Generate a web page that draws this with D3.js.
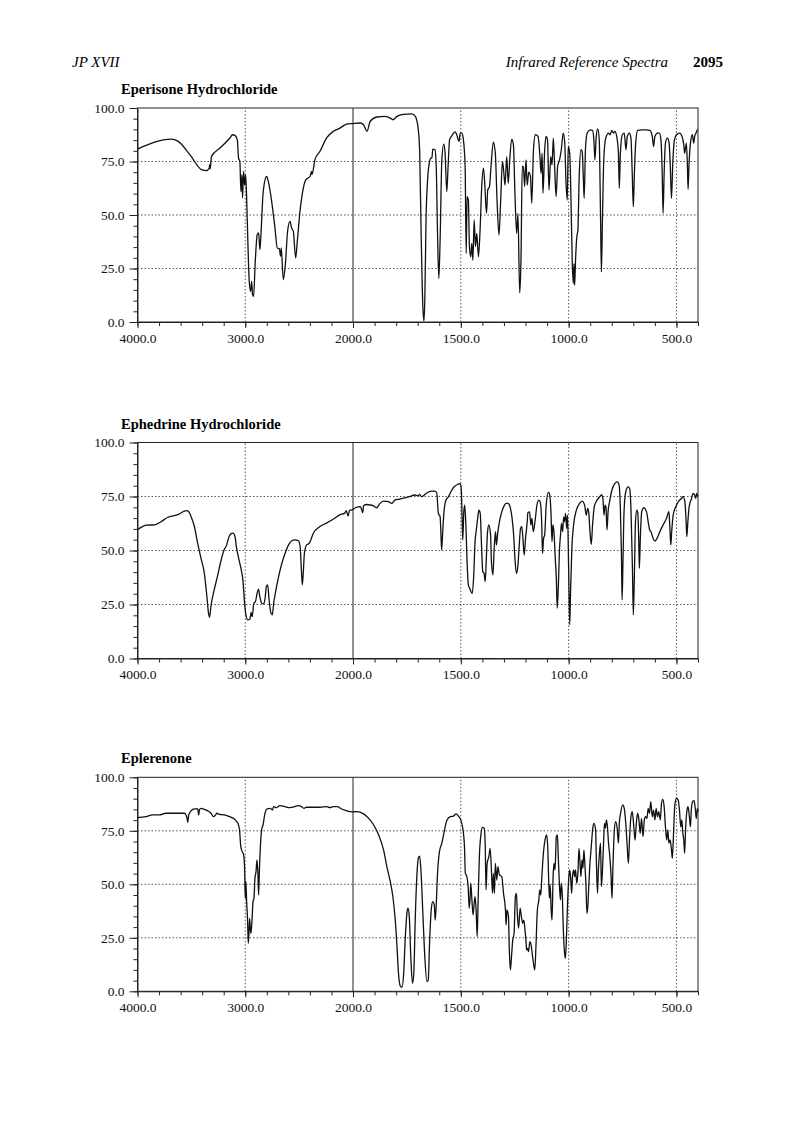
<!DOCTYPE html>
<html>
<head>
<meta charset="utf-8">
<script src="https://cdn.jsdelivr.net/npm/d3@7"></script>
<style>
  body { margin: 0; background: #fff; }
  svg text { font-family: "Liberation Serif", "Times New Roman", serif; }
</style>
</head>
<body>
<svg id="page" width="800" height="1122"></svg>
<script>
// wavenumber (cm-1), transmittance (%)
const eperisone = [[4000,80.8],[3684,85.5],[3622,84.4],[3514,78.2],[3406,71.2],[3360,70.7],[3334,72],[3330,73.5],[3326,71.5],[3313,77.4],[3235,81.3],[3142,86],[3118,87.5],[3096,87.2],[3074,85.2],[3062,76.6],[3050,75],[3040,61],[3031,68.8],[3025,58],[3016,70.4],[3006,64],[2997,68.8],[2988,59.5],[2975,36.1],[2963,19],[2950,14.3],[2941,19],[2932,12.8],[2923,12],[2907,28.3],[2889,40.8],[2876,41.6],[2864,33.8],[2858,37.7],[2833,61],[2802,68],[2786,65.7],[2755,56.4],[2724,43.9],[2703,34.6],[2684,34.3],[2672,30.7],[2666,34.6],[2647,19.8],[2628,26.8],[2607,42.4],[2585,47],[2570,43.9],[2554,42.4],[2532,29.9],[2517,37.7],[2492,51.7],[2461,62.6],[2437,66.5],[2399,68],[2390,69.5],[2384,70.4],[2380,69],[2353,75.9],[2306,79.8],[2245,86],[2183,89.1],[2121,90.6],[2059,92.5],[2012,92.7],
  [1966,93],[1951,92.2],[1935,89.1],[1920,93.8],[1889,95.8],[1850,96.1],[1827,95.3],[1815,94.5],[1796,96.1],[1765,97],[1727,97.3],[1711,96.1],[1699,91.4],[1691,80.5],[1684,41.4],[1676,7],[1671,0.5],[1667,10.2],[1661,49.2],[1654,66.4],[1645,75],[1640,76.6],[1634,76.6],[1630,80.8],[1620,80.5],[1614,72.7],[1608,41.4],[1602,20.3],[1596,38.3],[1588,75.8],[1579,83.1],[1573,78.9],[1565,60.9],[1559,72.7],[1552,85.2],[1542,87],[1526,88.8],[1519,87.5],[1508,84.4],[1503,88.3],[1495,88.3],[1488,85.2],[1480,72.7],[1475,32],[1471,58.6],[1465,57],[1460,35.2],[1454,30.5],[1449,36.7],[1444,28.9],[1438,47.7],[1432,35.2],[1426,41.4],[1418,30.5],[1410,44.5],[1403,63.3],[1395,71.9],[1389,64.8],[1381,50.8],[1375,61.7],[1367,63.3],[1360,72.7],[1349,84.1],[1340,78.9],[1332,57],[1323,40.6],[1315,57],[1307,75],[1301,70.3],[1295,64],[1287,77.3],[1280,64.8],[1273,75.8],[1264,85.5],[1256,82.8],[1249,60.2],[1241,41.4],[1235,50.8],[1227,13.6],[1221,28.9],[1215,72.7],[1210,72.7],[1204,63.3],
  [1198,75.8],[1192,64],[1185,70],[1177,68],[1171,55.5],[1163,80.5],[1154,87.5],[1142,86.7],[1134,78.9],[1128,69.5],[1123,78.9],[1119,60.2],[1111,80.5],[1105,86.7],[1098,85.2],[1091,61.7],[1083,77.3],[1077,73.4],[1071,85.9],[1065,72.7],[1058,58.6],[1051,72.7],[1042,75.8],[1034,80.5],[1025,88.3],[1018,83.6],[1012,64.8],[1006,57],[1002,82],[995,78.9],[989,57],[983,27.3],[978,18],[975,27.3],[972,17.2],[968,28.9],[962,39.8],[957,43],[951,68],[943,80.5],[937,79.7],[932,68],[928,57.8],[922,80.5],[914,88.3],[900,89.8],[889,89.5],[883,85.2],[878,75.8],[872,86.7],[865,90.2],[858,85.2],[852,49.2],[848,23.4],[843,49.2],[837,75.8],[828,85.9],[815,88.3],[808,87.5],[800,89.5],[792,88.3],[785,89.1],[777,86.7],[769,78.9],[765,62.5],[760,78.9],[751,87.5],[742,88.3],[734,80.5],[728,86.7],[718,88.3],[711,85.9],[705,69.5],[700,53.9],[695,69.5],[689,83.6],[680,89.5],[662,89.8],[639,89.8],[623,89.5],[612,86.7],[606,82],[600,86.7],[588,88.3],[579,88.3],[572,85.2],[566,69.5],[562,50.8],[557,69.5],[551,83.6],[542,85.9],[534,83.6],[529,74.2],[523,57.8],[517,74.2],[509,85.2],[500,87.5],[485,88.3],[474,86.7],[466,82.8],[462,78.9],[454,83.6],[449,72.7],[446,62],[442,72.7],[435,83.6],[426,87.5],[420,83.6],[415,87],[409,88.3],[403,89.8],[400,89.5]];

const ephedrine = [[4000,59.6],[3963,60.8],[3917,61.7],[3841,61.9],[3779,63.4],[3718,65.4],[3672,66],[3610,67],[3549,68.5],[3528,68.2],[3503,65.7],[3472,61.1],[3442,53.4],[3411,46.5],[3380,39.5],[3356,28.7],[3341,21],[3331,19.1],[3319,24],[3288,31.8],[3258,38],[3227,44.9],[3196,50.3],[3172,52.6],[3160,54.9],[3135,57.7],[3114,58],[3095,56.5],[3083,51.9],[3058,45.7],[3037,41],[3022,36.4],[3006,25.6],[2994,20.2],[2976,17.9],[2957,18.2],[2945,21.3],[2936,19.4],[2920,25.6],[2905,26.4],[2890,30.2],[2877,32.1],[2865,28.7],[2847,25.6],[2828,25.3],[2816,27.9],[2804,33.3],[2792,34.1],[2779,27.2],[2761,21],[2749,20.2],[2736,25.6],[2721,30.2],[2690,38],[2660,44.1],[2629,48.8],[2598,52.6],[2568,54.5],[2537,54.9],[2506,54.5],[2491,51.9],[2479,41],[2470,34.1],[2460,41],[2451,48.8],[2430,52.6],[2405,53.4],[2368,58],[2307,61.1],[2246,62.7],[2184,64.5],[2123,66.5],[2077,67.3],[2062,68.4],[2046,66],[2031,68.7],[2012,68.7],
  [1989,69.8],[1966,70.3],[1959,68.7],[1955,67.5],[1951,70.7],[1936,71.3],[1917,71],[1905,70.7],[1890,69.8],[1875,71.8],[1859,72.9],[1836,72.6],[1821,71.8],[1806,73.3],[1783,73.8],[1760,74.4],[1737,74.9],[1714,75.7],[1699,75.3],[1691,76],[1683,74.9],[1661,76.4],[1638,77.5],[1622,77.5],[1612,76.9],[1604,67.2],[1596,65.6],[1592,57.2],[1589,50.2],[1584,58.7],[1578,68],[1569,73.3],[1557,74.9],[1546,77.2],[1531,79.5],[1515,80.6],[1503,81],[1498,78.7],[1494,64.9],[1491,54.9],[1486,68],[1482,71],[1477,63.3],[1471,44.8],[1465,34.1],[1459,32.5],[1453,31],[1447,30.2],[1440,38.7],[1434,54.1],[1428,59.5],[1422,64.9],[1416,68.7],[1410,67.2],[1404,52.5],[1398,40.2],[1392,39.4],[1387,35.6],[1381,47.9],[1376,58.7],[1370,61.8],[1362,57.2],[1358,44.8],[1351,38.7],[1346,49.5],[1339,58.7],[1335,52.5],[1329,57.9],[1321,63.3],[1312,67.2],[1301,70.3],[1290,71.8],[1281,71.8],[1272,70.3],[1263,65.6],[1255,57.2],[1248,44.8],[1242,39.4],[1235,43.3],[1229,52.5],[1223,60.2],[1217,61],[1211,54.1],[1206,47.9],[1200,55.5],[1192,63.3],
  [1189,67.6],[1181,67.9],[1175,61.8],[1170,64.9],[1164,58.7],[1156,63.3],[1147,71],[1138,73.3],[1132,72.6],[1125,63.3],[1121,48.7],[1116,55.6],[1111,57.2],[1104,71],[1094,76.9],[1088,76],[1082,68],[1077,54.1],[1073,61.8],[1068,58.7],[1062,46.4],[1057,37.1],[1053,23.3],[1048,32.5],[1042,51],[1037,57.9],[1033,62.6],[1028,58.7],[1023,65.6],[1019,63.3],[1014,67.2],[1009,60.2],[1005,66.4],[1000,41.8],[995,15.6],[991,31],[985,51],[977,61.8],[964,68.7],[949,71.8],[937,72.9],[926,71],[918,66.4],[912,69.5],[907,67.9],[901,58.7],[895,52.8],[889,61.8],[881,70.3],[868,73.3],[856,74.9],[847,75.7],[841,74.1],[836,66.4],[831,71],[827,70.3],[822,59.5],[817,68],[810,72.6],[797,78.7],[786,81],[774,81.8],[766,80.3],[760,69.5],[755,47.9],[752,27.1],[748,44.8],[743,68],[735,77.2],[724,79.5],[717,78.7],[711,69.5],[704,41.8],[700,20.2],[695,38.7],[690,63.3],[684,68.7],[679,67.2],[675,55.6],[672,41.8],[667,57.2],[661,68],[652,69.8],[639,68],[630,62.6],[624,59.5],[618,58.7],[608,55.6],[599,54.4],[590,55.6],[577,58.7],[562,61.8],[546,64.9],[535,68],[531,61.8],[526,52.5],[522,58.7],[515,66.4],[503,70.3],[491,72.6],[477,74.1],[469,74.9],[461,72.6],[455,63.3],[452,56.4],[447,63.3],[441,70.3],[430,74.1],[423,76.4],[416,75.7],[410,74.1],[407,76.4],[404,75.7],[400,75]];

const eplerenone = [[4000,81.2],[3922,81.6],[3860,82.4],[3798,82.4],[3736,83.2],[3643,83.2],[3565,83.2],[3550,82.4],[3540,80.8],[3534,79],[3525,82.4],[3503,84.3],[3472,85.2],[3441,85.2],[3432,82.4],[3425,84.9],[3410,85.5],[3379,85],[3348,84.3],[3317,83.2],[3295,81.6],[3276,82.4],[3264,83.2],[3239,82.7],[3192,82.4],[3146,81.6],[3099,80.4],[3068,78.5],[3053,75.4],[3043,68.4],[3034,66],[3025,65],[3015,63.7],[3006,57.5],[3000,43.5],[2994,51.2],[2987,41.9],[2978,32.6],[2972,22.4],[2966,26.3],[2960,34.1],[2953,29.4],[2947,27.1],[2938,32.6],[2928,41.9],[2919,43.5],[2910,52.8],[2900,55.9],[2891,61.4],[2882,54.4],[2876,45],[2869,55.9],[2857,69.9],[2845,76.2],[2835,77.7],[2820,82.4],[2798,85.2],[2767,85.5],[2748,84.7],[2736,86.3],[2711,85.8],[2680,86.8],[2633,86.3],[2587,85.8],[2540,86.3],[2509,86.8],[2478,86.3],[2456,85.5],[2431,86],[2369,86],[2307,86],[2245,86.3],[2214,85.8],[2183,86.3],[2146,86.3],[2105,85.2],[2059,84.4],[2030,84],[2000,83.8],
  [1981,84],[1951,82.9],[1927,80.8],[1904,77.7],[1881,73],[1858,66],[1843,58.3],[1827,51.2],[1815,44.2],[1804,33.3],[1796,20.9],[1789,8.4],[1781,2.5],[1773,1.9],[1765,8.4],[1758,24],[1750,36.4],[1745,38.8],[1739,34.9],[1732,16.2],[1724,3.7],[1718,8.4],[1711,34.9],[1704,53.6],[1696,62.6],[1691,63.2],[1685,56.7],[1676,36.4],[1667,16.2],[1657,4.5],[1651,5.3],[1645,22.4],[1637,38.3],[1630,41.9],[1623,40.3],[1619,33.3],[1614,40.3],[1608,55.1],[1599,65.3],[1588,69.2],[1577,74.6],[1565,79.8],[1549,81.6],[1534,81.9],[1522,82.9],[1511,81.9],[1500,80],[1491,76.2],[1483,67.6],[1479,55.1],[1472,53.6],[1466,48.9],[1461,38.8],[1457,43.5],[1454,50.5],[1448,41.9],[1443,35.7],[1438,41.1],[1434,44.2],[1429,38],[1424,25.5],[1420,41.1],[1414,62.9],[1406,73.8],[1400,76.6],[1392,76.2],[1387,69.2],[1383,47.4],[1378,59.8],[1370,62.9],[1364,66.8],[1358,56.7],[1353,45.8],[1349,55.1],[1344,45.8],[1340,59.8],[1333,52],[1328,58.3],[1321,54.4],[1310,53.6],[1302,45.8],[1293,38],[1290,31],[1286,38],[1279,34.9],[1275,19.3],[1270,10],[1265,16.2],[1259,24],[1253,27.1],[1247,44.2],[1242,45.8],[1238,36.4],[1232,29.4],[1225,38.8],[1219,34.9],[1213,31.8],[1208,33.3],[1203,29.4],[1197,22.4],[1195,19.3],[1190,20],
  [1186,18.5],[1180,23.2],[1174,21.7],[1169,17.8],[1163,13.1],[1157,10],[1151,22.4],[1145,38],[1138,42.7],[1134,47.4],[1129,45],[1125,52],[1117,64.5],[1108,71.5],[1102,73.1],[1097,67.6],[1092,50.5],[1089,43.5],[1086,49.7],[1080,36.4],[1077,33.3],[1072,53.6],[1068,59.8],[1063,56.7],[1057,72.3],[1052,73.1],[1048,62.9],[1043,50.5],[1038,42.7],[1034,50.5],[1029,44.2],[1025,30.2],[1020,19.3],[1015,15.4],[1011,22.4],[1006,38],[1000,52],[995,56.7],[991,53.6],[986,45.8],[982,53.6],[977,56.7],[972,53.6],[968,56.7],[962,50.5],[957,55.1],[952,66.8],[948,61.4],[943,53.6],[938,61.4],[934,57.5],[929,66],[925,59.8],[920,50.5],[915,36.4],[911,39.5],[906,50.5],[902,58.3],[895,67.6],[888,76.2],[882,78.5],[875,75.4],[871,59.8],[866,45.8],[862,56.7],[857,64.5],[852,69.2],[848,48.9],[843,56.7],[838,69.2],[834,78.5],[829,76.2],[825,80.1],[820,76.9],[815,69.2],[809,62.9],[803,53.6],[799,43.5],[794,59.8],[788,75.4],[782,79.3],[775,76.2],[769,69.2],[765,78.5],[759,83.2],[749,87.1],[742,85.5],[735,78.5],[729,69.2],[723,59.8],[717,72.3],[711,81.6],[705,84],[699,78.5],[692,70.7],[686,78.5],[680,83.2],[674,80.1],[668,73.8],[662,80.8],[655,72.3],[649,80.1],[643,81.6],[637,80.8],[631,85.5],[625,83.2],[619,88.6],[612,81.6],[606,84.7],[600,80.1],[594,85.5],[588,81.6],[582,84],[575,80.1],[569,87.9],[563,89.7],[557,86.3],[551,76.9],[545,70.7],[540,75.4],[535,69.2],[529,70.7],[523,66],[519,62.1],[514,72.3],[508,86.3],[500,90.2],[492,89.4],[486,84.7],[480,76.9],[475,80.1],[471,74.6],[466,70.7],[462,64.5],[457,76.9],[451,84.7],[446,86.3],[440,81.6],[435,76.9],[431,84.7],[425,88.6],[418,89.1],[412,84.7],[408,80.8],[403,85.5],[400,84]];

const titles = ["Eperisone Hydrochloride", "Ephedrine Hydrochloride", "Eplerenone"];
const xLabelTicks = [4000, 3000, 2000, 1500, 1000, 500];
const xGridTicks = [3000, 1500, 1000, 500];
const yLabelTicks = [0, 25, 50, 75, 100];
const yGridTicks = [25, 50, 75];

const svg = d3.select("#page");

// running header
svg.append("text").attr("x", 72).attr("y", 67)
	.attr("font-size", 15).attr("font-style", "italic").text("JP XVII");
svg.append("text").attr("x", 668).attr("y", 67).attr("text-anchor", "end")
	.attr("font-size", 15).attr("font-style", "italic").text("Infrared Reference Spectra");
svg.append("text").attr("x", 723).attr("y", 67).attr("text-anchor", "end")
	.attr("font-size", 15).attr("font-weight", "bold").text("2095");

// one box per spectrum
const panels = [
	{ data: eperisone, top: 108, bottom: 322 },
	{ data: ephedrine, top: 442.5, bottom: 658.5 },
	{ data: eplerenone, top: 777.3, bottom: 991.3 }
];

panels.forEach((p, i) => {
	// the scale halves at 2000 cm-1, as on the instrument chart
	const x = d3.scaleLinear().domain([4000, 2000, 400]).range([137.5, 353, 698]);
	const y = d3.scaleLinear().domain([0, 100]).range([p.bottom, p.top]);
	const g = svg.append("g");

	g.append("text").attr("x", 121).attr("y", p.top - 14)
		.attr("font-size", 14.5).attr("font-weight", "bold").text(titles[i]);

	// dotted grid
	g.selectAll(".hgrid").data(yGridTicks).enter().append("line")
		.attr("x1", x(4000)).attr("x2", x(400))
		.attr("y1", d => y(d)).attr("y2", d => y(d))
		.attr("stroke", "#444").attr("stroke-width", 0.9).attr("stroke-dasharray", "1.5,2");
	g.selectAll(".vgrid").data(xGridTicks).enter().append("line")
		.attr("x1", d => x(d)).attr("x2", d => x(d))
		.attr("y1", y(0)).attr("y2", y(100))
		.attr("stroke", "#444").attr("stroke-width", 0.9).attr("stroke-dasharray", "1.5,2");
	// solid line where the scale changes
	g.append("line").attr("x1", x(2000)).attr("x2", x(2000))
		.attr("y1", y(0)).attr("y2", y(100)).attr("stroke", "#222").attr("stroke-width", 1);

	// frame
	g.append("rect").attr("x", x(4000)).attr("y", y(100))
		.attr("width", x(400) - x(4000)).attr("height", y(0) - y(100))
		.attr("fill", "none").attr("stroke", "#222").attr("stroke-width", 1);

	// x axis: minor ticks then labelled ticks
	const minorX = d3.range(4000, 2000, -200).concat(d3.range(2000, 399, -100));
	g.append("g").attr("transform", `translate(0,${y(0)})`)
		.call(d3.axisBottom(x).tickValues(minorX).tickSize(4).tickFormat("").tickSizeOuter(0))
		.call(a => a.select(".domain").attr("stroke", "#222"))
		.call(a => a.selectAll("line").attr("stroke", "#222"));
	g.append("g").attr("transform", `translate(0,${y(0)})`)
		.call(d3.axisBottom(x).tickValues(xLabelTicks).tickSize(6).tickPadding(5)
			.tickFormat(d3.format(".1f")).tickSizeOuter(0))
		.call(a => a.select(".domain").remove())
		.call(a => a.selectAll("line").attr("stroke", "#222"))
		.call(a => a.selectAll("text").attr("font-size", 13.5).attr("fill", "#111")
			.attr("font-family", "Liberation Serif, serif"));

	// y axis
	g.append("g").attr("transform", `translate(${x(4000)},0)`)
		.call(d3.axisLeft(y).tickValues(d3.range(0, 101, 5)).tickSize(4).tickFormat("").tickSizeOuter(0))
		.call(a => a.select(".domain").attr("stroke", "#222"))
		.call(a => a.selectAll("line").attr("stroke", "#222"));
	g.append("g").attr("transform", `translate(${x(4000)},0)`)
		.call(d3.axisLeft(y).tickValues(yLabelTicks).tickSize(8).tickPadding(5)
			.tickFormat(d3.format(".1f")).tickSizeOuter(0))
		.call(a => a.select(".domain").remove())
		.call(a => a.selectAll("line").attr("stroke", "#222"))
		.call(a => a.selectAll("text").attr("font-size", 13.5).attr("fill", "#111")
			.attr("font-family", "Liberation Serif, serif"));

	// spectrum trace, smoothed without overshoot
	const line = d3.line().x(d => x(d[0])).y(d => y(d[1])).curve(d3.curveMonotoneX);
	g.append("path").datum(p.data)
		.attr("d", line)
		.attr("fill", "none").attr("stroke", "#111").attr("stroke-width", 1.3)
		.attr("stroke-linejoin", "round");
});
</script>
</body>
</html>
